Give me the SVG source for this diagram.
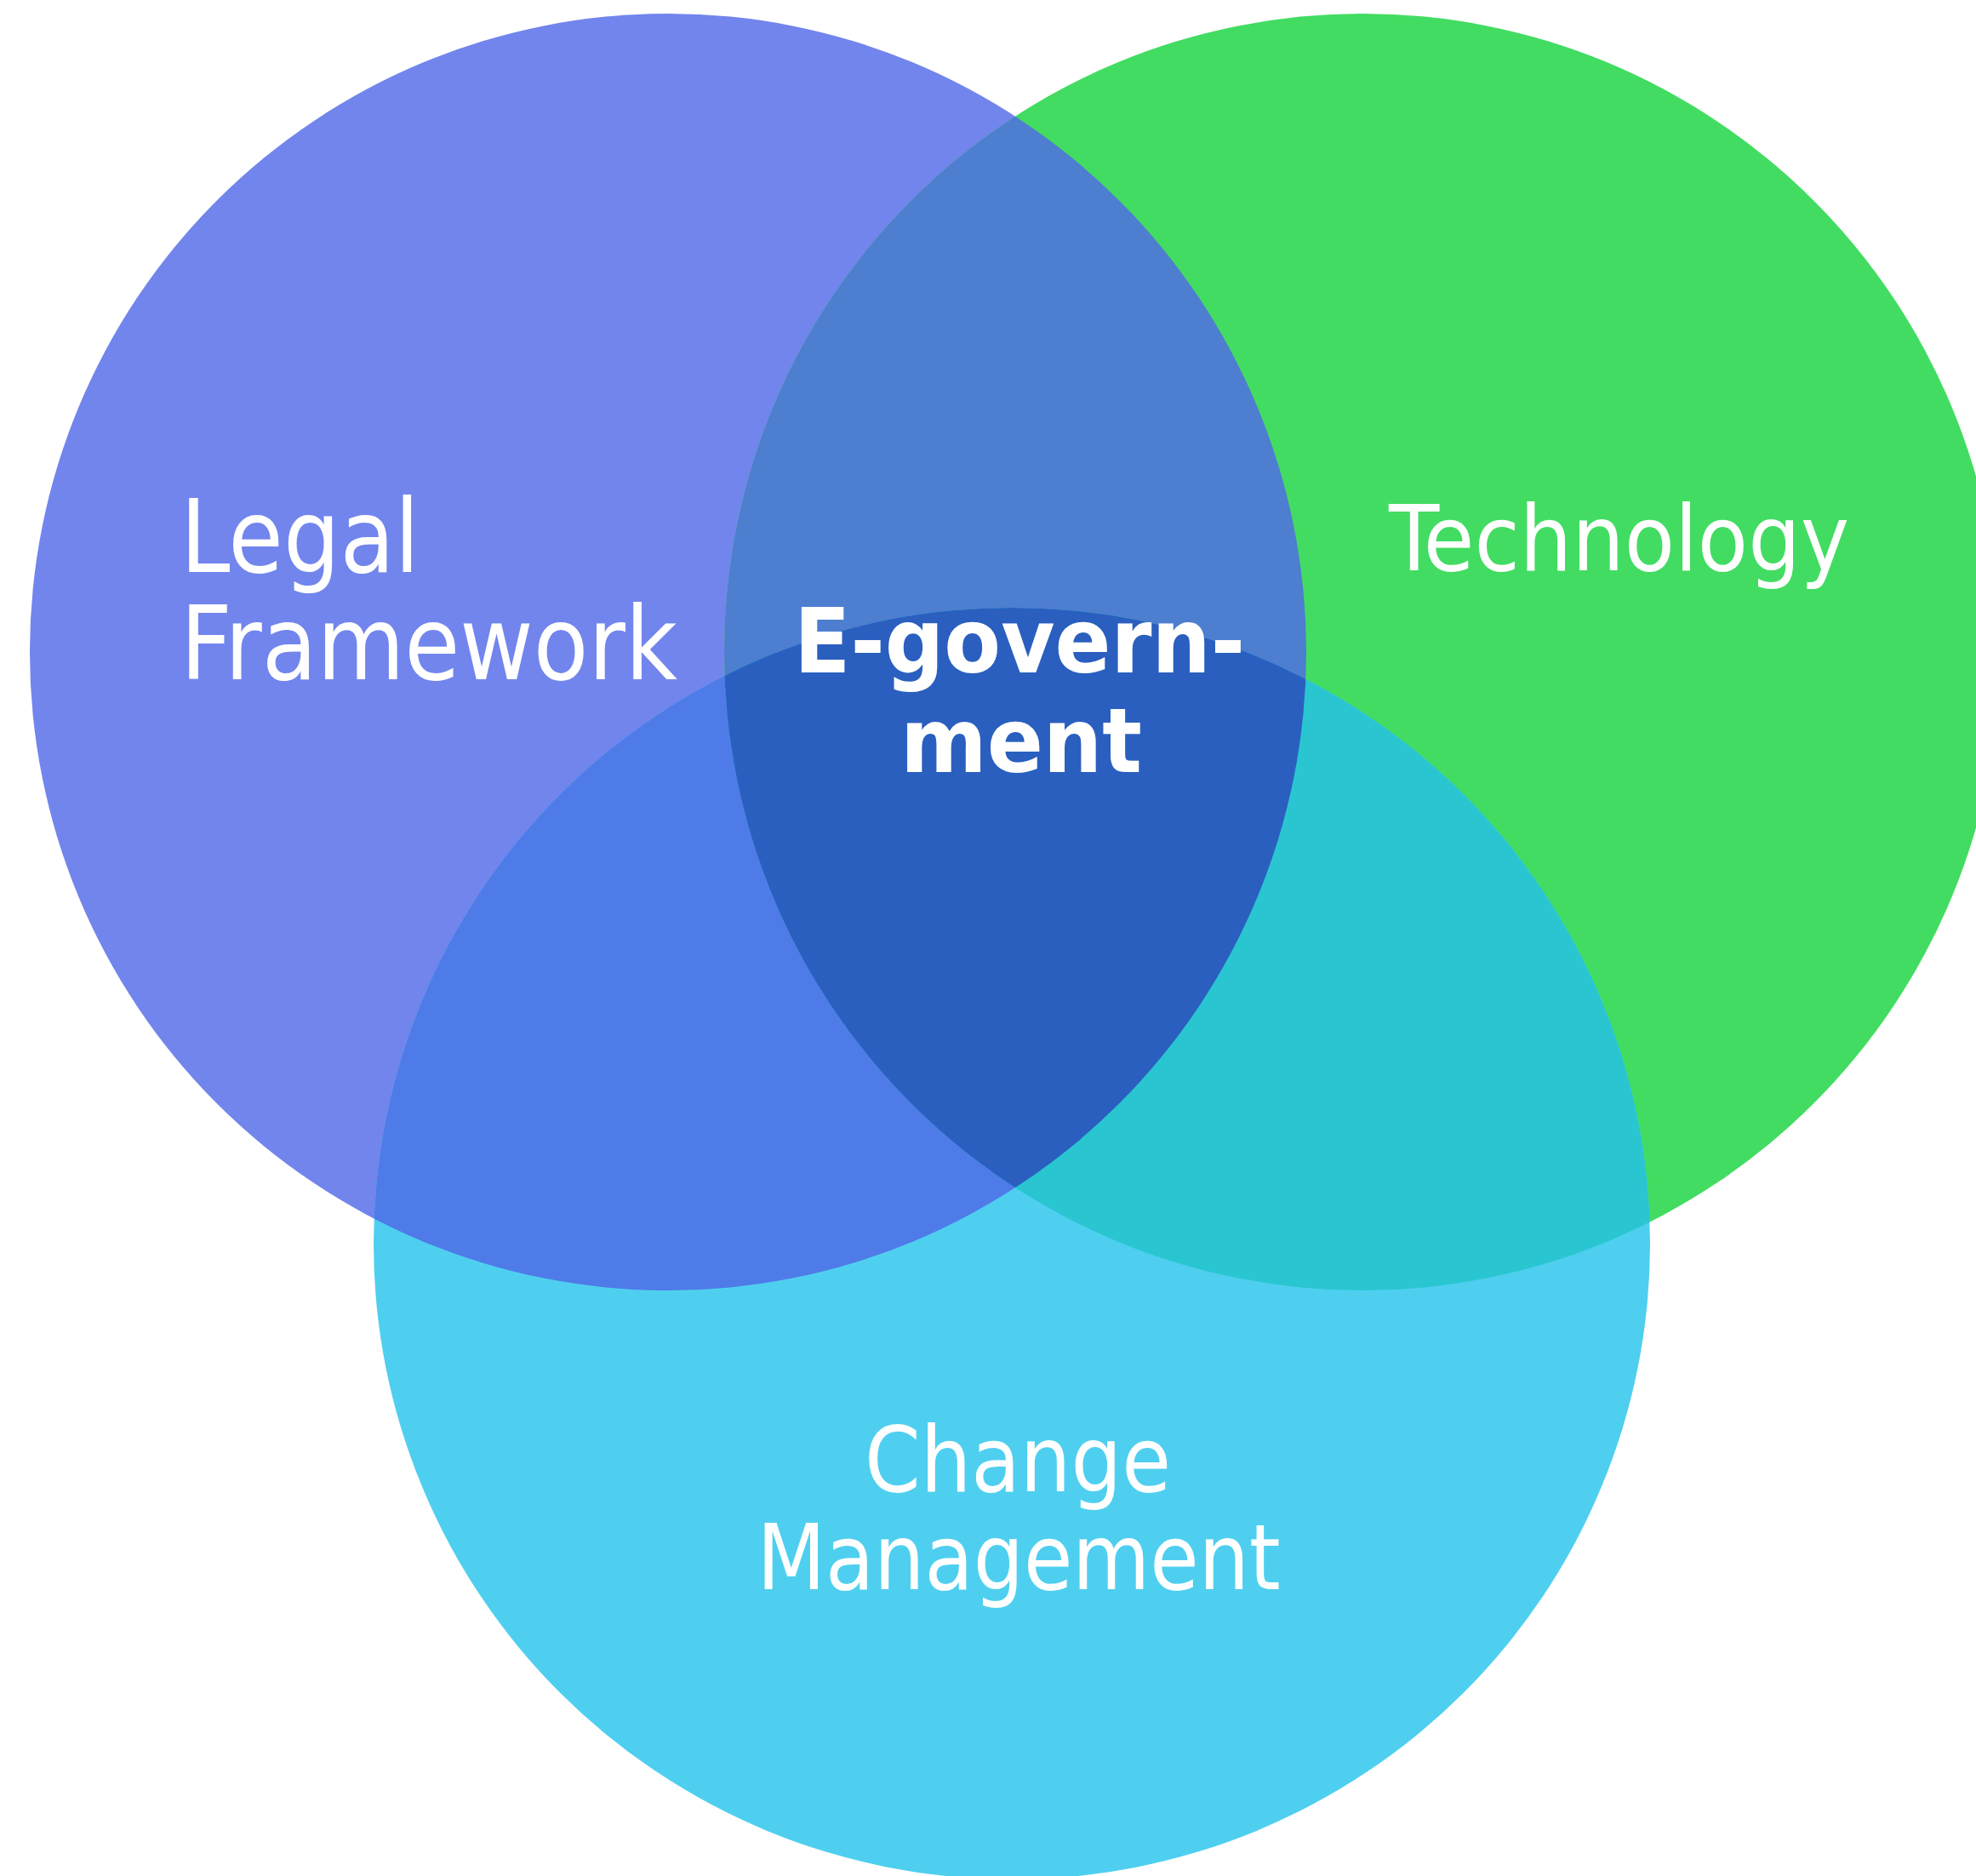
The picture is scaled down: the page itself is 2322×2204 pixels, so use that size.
<svg xmlns="http://www.w3.org/2000/svg" width="2322" height="2204" viewBox="0 0 2322 2204">
<style>
text{fill:#FFFFFF;font-family:"DejaVu Sans Condensed","DejaVu Sans","Liberation Sans",sans-serif;font-stretch:condensed;}
.lbl{font-size:107px;}
.big{font-size:119px;}
.ctr{font-size:106px;font-weight:bold;text-anchor:middle;}
.mid{text-anchor:middle;}
</style>
<defs>
<clipPath id="cL"><circle cx="785" cy="766" r="750"/></clipPath>
<clipPath id="cR"><circle cx="1601" cy="766" r="750"/></clipPath>
</defs>
<rect width="2322" height="2204" fill="#FFFFFF"/>
<g id="legal">
<circle cx="785" cy="766" r="750" fill="#7285ED"/>
</g>
<g id="technology">
<circle cx="1601" cy="766" r="750" fill="#42DC62"/>
</g>
<g id="change">
<ellipse cx="1189" cy="1461" rx="750" ry="747" fill="#4FCFEF"/>
</g>
<g id="overlaps">
<circle cx="1601" cy="766" r="750" fill="#4E7ECF" clip-path="url(#cL)"/>
<ellipse cx="1189" cy="1461" rx="750" ry="747" fill="#4F7BE8" clip-path="url(#cL)"/>
<ellipse cx="1189" cy="1461" rx="750" ry="747" fill="#29C6D1" clip-path="url(#cR)"/>
</g>
<g id="egovernment">
<g clip-path="url(#cL)">
<ellipse cx="1189" cy="1461" rx="750" ry="747" fill="#2A5FBF" clip-path="url(#cR)"/>
</g>
<text class="ctr" x="1198" y="790" textLength="530" lengthAdjust="spacingAndGlyphs">E-govern-</text>
<text class="ctr" x="1200" y="907" textLength="284" lengthAdjust="spacingAndGlyphs">ment</text>
</g>
<g id="legal-label">
<text class="big" x="212" y="672" textLength="281" lengthAdjust="spacingAndGlyphs">Legal</text>
<text class="big" x="212" y="798" textLength="584" lengthAdjust="spacingAndGlyphs">Framework</text>
</g>
<g id="technology-label">
<text class="lbl" x="1632" y="670" textLength="541" lengthAdjust="spacingAndGlyphs">Technology</text>
</g>
<g id="change-label">
<text class="lbl mid" x="1196" y="1752" textLength="360" lengthAdjust="spacingAndGlyphs">Change</text>
<text class="lbl mid" x="1197" y="1867" textLength="615" lengthAdjust="spacingAndGlyphs">Management</text>
</g>
</svg>
